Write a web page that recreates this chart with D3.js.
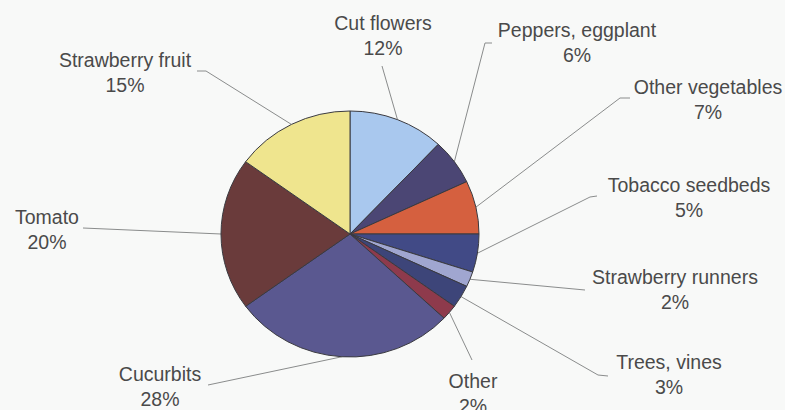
<!DOCTYPE html>
<html>
<head>
<meta charset="utf-8">
<script src="https://cdn.jsdelivr.net/npm/d3@7"></script>
<style>
  html, body { margin: 0; padding: 0; background: #f8f9f8; }
  svg { display: block; }
  text { font-family: "Liberation Sans", Arial, sans-serif; }
</style>
</head>
<body>
<svg id="chart" width="785" height="410"></svg>
<script>
// ---- data ----
const categories = ["Cut flowers", "Peppers, eggplant", "Other vegetables", "Tobacco seedbeds",
  "Strawberry runners", "Trees, vines", "Other", "Cucurbits", "Tomato", "Strawberry fruit"];
const values = [12, 6, 7, 5, 2, 3, 2, 28, 20, 15];

// ---- styles / layout (not data) ----
const colors = ["#a9c8ee", "#4b4674", "#d5603f", "#414a86", "#a0a6d0",
  "#3d4579", "#8e3a4c", "#5a5890", "#6a3b3b", "#efe58e"];
// label centre x and first-line baseline y
const labelPos = [[383, 30], [577, 37], [708, 94], [689, 192], [675, 284],
  [669, 369], [473, 388], [160, 381], [47, 224], [125, 67]];
// outer points of each leader line (label side first)
const leaderPts = [[[382, 66]], [[492, 43], [485, 43]], [[630, 98], [620, 98]],
  [[597, 196], [590, 197]], [[585, 290]], [[608, 376], [598, 375]], [[472, 360]],
  [[208, 385]], [[83, 228]], [[197, 71], [206, 71]]];

const W = 785, H = 410;
const cx = 350, cy = 234, rx = 129, ry = 123;

const svg = d3.select("#chart");
svg.append("rect").attr("width", W).attr("height", H).attr("fill", "#f8f9f8");

const data = categories.map((c, i) => ({ name: c, value: values[i], i }));
const pie = d3.pie().value(d => d.value).sort(null);
const arcs = pie(data);
const arc = d3.arc().innerRadius(0).outerRadius(ry);

// leader lines
const line = d3.line();
arcs.forEach(a => {
  const m = (a.startAngle + a.endAngle) / 2;
  const inner = [cx + rx * Math.sin(m), cy - ry * Math.cos(m)];
  const pts = leaderPts[a.index].concat([inner]);
  svg.append("path")
    .attr("d", line(pts))
    .attr("fill", "none")
    .attr("stroke", "#8a8c8c")
    .attr("stroke-width", 1);
});

// pie (slightly elliptical like the reference)
const g = svg.append("g")
  .attr("transform", `translate(${cx},${cy}) scale(${rx / ry},1)`);
g.selectAll("path.slice")
  .data(arcs)
  .join("path")
  .attr("class", "slice")
  .attr("d", arc)
  .attr("fill", d => colors[d.index])
  .attr("stroke", "#3a3a40")
  .attr("stroke-width", 1)
  .attr("vector-effect", "non-scaling-stroke");

// labels
const lab = svg.append("g").attr("fill", "#4a4a4a").attr("font-size", "19.5px")
  .attr("text-anchor", "middle");
arcs.forEach(a => {
  const [x, y] = labelPos[a.index];
  const t = lab.append("text").attr("x", x).attr("y", y);
  t.append("tspan").attr("x", x).text(a.data.name);
  t.append("tspan").attr("x", x).attr("dy", 24.5).text(a.data.value + "%");
});
</script>
</body>
</html>
